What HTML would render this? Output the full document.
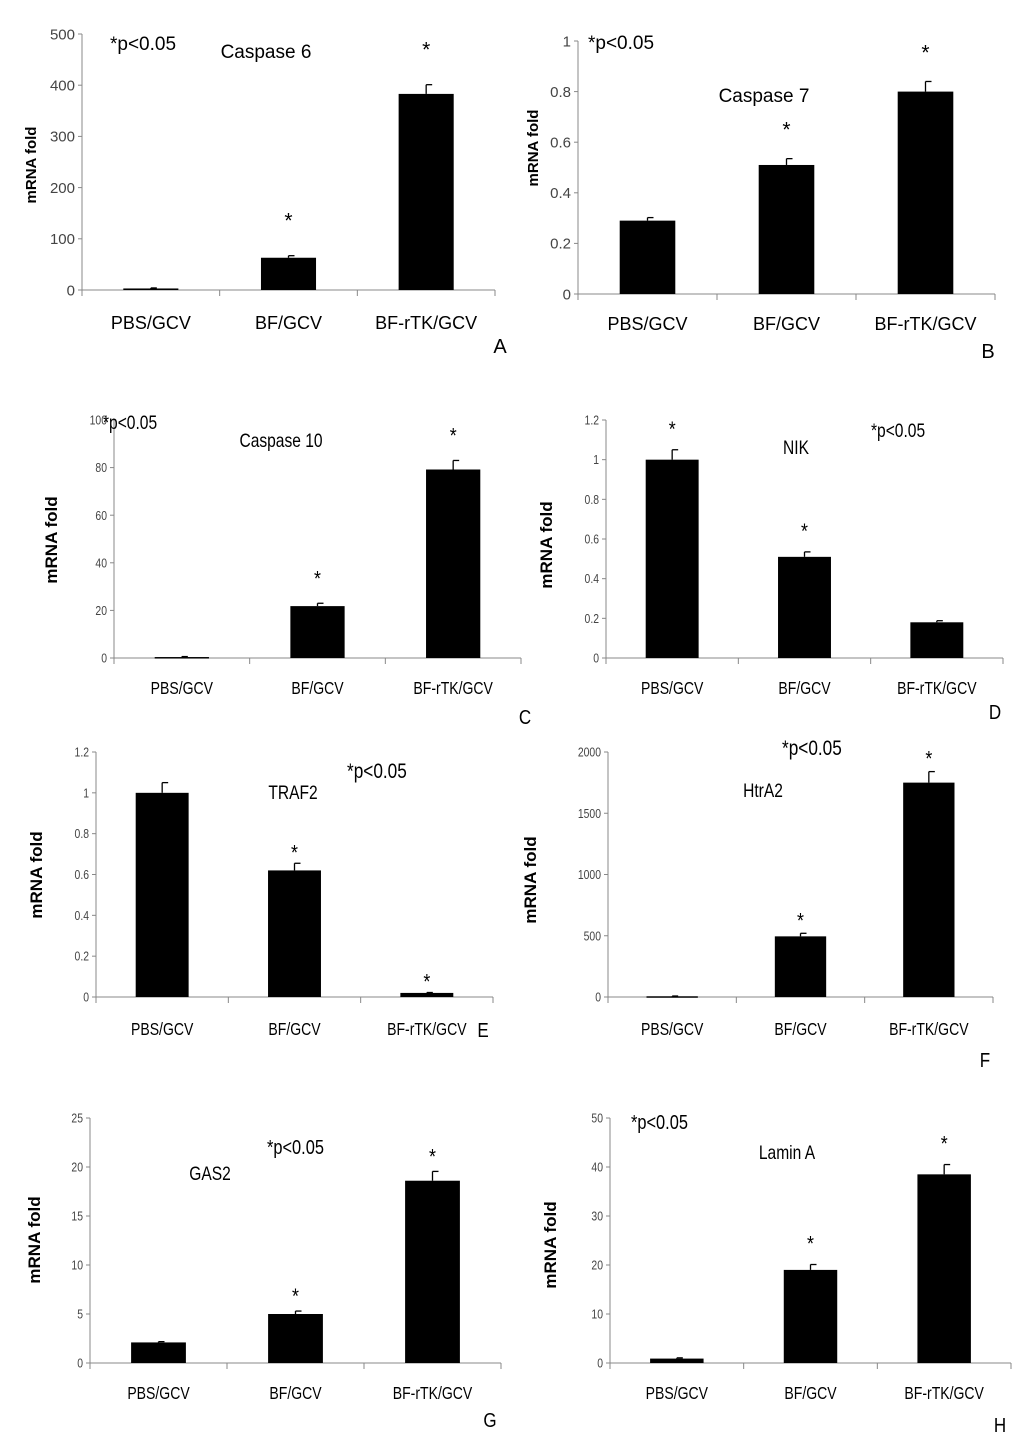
<!DOCTYPE html>
<html><head><meta charset="utf-8"><style>
html,body{margin:0;padding:0;background:#fff;}
svg{display:block;font-family:"Liberation Sans",sans-serif;}
</style></head><body>
<svg id="fig" width="1024" height="1452" viewBox="0 0 1024 1452" xmlns="http://www.w3.org/2000/svg"></svg>
<script>
const categories = ["PBS/GCV","BF/GCV","BF-rTK/GCV"];
const titles = ["Caspase 6","Caspase 7","Caspase 10","NIK","TRAF2","HtrA2","GAS2","Lamin A"];
const letters = ["A","B","C","D","E","F","G","H"];
const valuesA = [3, 63, 383];    const errA = [1, 4, 18];
const valuesB = [0.29, 0.51, 0.80]; const errB = [0.012, 0.025, 0.04];
const valuesC = [0.4, 21.8, 79.2]; const errC = [0.2, 1.2, 3.8];
const valuesD = [1.0, 0.51, 0.18]; const errD = [0.05, 0.025, 0.008];
const valuesE = [1.0, 0.62, 0.02]; const errE = [0.05, 0.035, 0.002];
const valuesF = [6, 495, 1750]; const errF = [2, 25, 90];
const valuesG = [2.1, 5.0, 18.6]; const errG = [0.08, 0.3, 0.95];
const valuesH = [0.9, 19, 38.5]; const errH = [0.15, 1.1, 2.0];
const ticksA = ["0","100","200","300","400","500"];
const ticksB = ["0","0.2","0.4","0.6","0.8","1"];
const ticksC = ["0","20","40","60","80","100"];
const ticksD = ["0","0.2","0.4","0.6","0.8","1","1.2"];
const ticksE = ["0","0.2","0.4","0.6","0.8","1","1.2"];
const ticksF = ["0","500","1000","1500","2000"];
const ticksG = ["0","5","10","15","20","25"];
const ticksH = ["0","10","20","30","40","50"];
const starsA=[0,1,1], starsB=[0,1,1], starsC=[0,1,1], starsD=[1,1,0], starsE=[0,1,1], starsF=[0,1,1], starsG=[0,1,1], starsH=[0,1,1];

const layout = [
 {x0:82,x1:495,yT:34,yB:290,catY:329,cond:false,tf:15,so:28,yl:[36,165],bold:false,p:[110,50,19],t:[266,58],L:[500,353]},
 {x0:578,x1:995,yT:41,yB:294,catY:330,cond:false,tf:15,so:22,yl:[538,148],bold:false,p:[588,49,19],t:[764,102],L:[988,358]},
 {x0:114,x1:521,yT:420,yB:658,catY:694,cond:true,tf:13,so:18,yl:[57,540],bold:true,p:[103,429,19],t:[281,447],L:[525,724]},
 {x0:606,x1:1003,yT:420,yB:658,catY:694,cond:true,tf:13,so:14,yl:[552,545],bold:true,p:[871,437,19],t:[796,454],L:[995,719]},
 {x0:96,x1:493,yT:752,yB:997,catY:1035,cond:true,tf:13,so:4,yl:[42,875],bold:true,p:[347,778,21],t:[293,799],L:[483,1037]},
 {x0:608,x1:993,yT:752,yB:997,catY:1035,cond:true,tf:13,so:6,yl:[536,880],bold:true,p:[782,755,21],t:[763,797],L:[985,1067]},
 {x0:90,x1:501,yT:1118,yB:1363,catY:1399,cond:true,tf:13,so:8,yl:[40,1240],bold:true,p:[267,1154,20],t:[210,1180],L:[490,1427]},
 {x0:610,x1:1011,yT:1118,yB:1363,catY:1399,cond:true,tf:13,so:14,yl:[556,1245],bold:true,p:[631,1129,20],t:[787,1159],L:[1000,1432]}
];
const allVals=[valuesA,valuesB,valuesC,valuesD,valuesE,valuesF,valuesG,valuesH];
const allErr=[errA,errB,errC,errD,errE,errF,errG,errH];
const allTicks=[ticksA,ticksB,ticksC,ticksD,ticksE,ticksF,ticksG,ticksH];
const allStars=[starsA,starsB,starsC,starsD,starsE,starsF,starsG,starsH];
const NS="http://www.w3.org/2000/svg";
const svg=document.getElementById('fig');
function mk(tag,attrs,parent){const e=document.createElementNS(NS,tag);for(const k in attrs)e.setAttribute(k,attrs[k]);(parent||svg).appendChild(e);return e;}

layout.forEach((L,i)=>{
  const g=mk('g',{});
  
  
  const ticks=allTicks[i];
  const tmax=parseFloat(ticks[ticks.length-1]);
  const y=v=>L.yB-(v/tmax)*(L.yB-L.yT);
  const band=(L.x1-L.x0)/categories.length;
  const xc=k=>L.x0+band*(k+0.5);
  const ya=mk('line',{x1:L.x0,y1:L.yT,x2:L.x0,y2:L.yB,stroke:'#888','stroke-width':1},g);
  
  
  const xa=mk('line',{x1:L.x0,y1:L.yB,x2:L.x1,y2:L.yB,stroke:'#888','stroke-width':1},g);
  
  
  ticks.forEach(t=>{
    const ty=y(parseFloat(t));
    mk('line',{x1:L.x0-4,y1:ty,x2:L.x0,y2:ty,stroke:'#888'},g);
    const tt=mk('text',{x:0,y:0,'font-size':L.tf,fill:'#444','text-anchor':'end',transform:`translate(${L.x0-7},${ty+L.tf*0.35}) ${L.cond?'scale(0.8,1)':''}`},g);
    tt.textContent=t;
    
    
  });
  for(let k=0;k<=categories.length;k++){
    const tx=L.x0+band*k;
    mk('line',{x1:tx,y1:L.yB,x2:tx,y2:L.yB+6,stroke:'#888'},g);
  }
  const vals=allVals[i], errs=allErr[i], st=allStars[i];
  vals.forEach((v,k)=>{
    const bw=band*0.4, bx=xc(k)-bw/2, by=y(v);
    const r=mk('rect',{x:bx,y:by,width:bw,height:Math.max(L.yB-by,1.5),fill:'#000'},g);
    
    
    const ey=y(v+errs[k]);
    mk('line',{x1:xc(k),y1:by,x2:xc(k),y2:ey,stroke:'#000','stroke-width':1.3},g);
    mk('line',{x1:xc(k),y1:ey,x2:xc(k)+6,y2:ey,stroke:'#000','stroke-width':1.3},g);
    if(st[k]){
      const s=mk('text',{x:0,y:0,'font-size':21,'text-anchor':'middle',fill:'#000',transform:`translate(${xc(k)},${ey-L.so}) ${L.cond?'scale(0.85,1)':''}`},g);
      s.textContent='*';
      
      
    }
    const c=mk('text',{x:0,y:0,'font-size':18,'text-anchor':'middle',fill:'#000',transform:`translate(${xc(k)},${L.catY}) ${L.cond?'scale(0.78,1)':''}`},g);
    c.textContent=categories[k];
    
    
  });
  const yl=mk('text',{x:0,y:0,'font-size':L.bold?17:15,'font-weight':'bold','text-anchor':'middle',fill:'#000',transform:`translate(${L.yl[0]},${L.yl[1]}) rotate(-90)`},g);
  yl.textContent='mRNA fold';
  
  
  const p=mk('text',{x:0,y:0,'font-size':L.p[2],fill:'#000',transform:`translate(${L.p[0]},${L.p[1]}) ${L.cond?'scale(0.82,1)':''}`},g);
  p.textContent='*p<0.05';
  
  
  const t=mk('text',{x:0,y:0,'font-size':19,'text-anchor':'middle',fill:'#000',transform:`translate(${L.t[0]},${L.t[1]}) ${L.cond?'scale(0.82,1)':''}`},g);
  t.textContent=titles[i];
  
  
  const le=mk('text',{x:0,y:0,'font-size':20,'text-anchor':'middle',fill:'#000',transform:`translate(${L.L[0]},${L.L[1]}) ${L.cond?'scale(0.85,1)':''}`},g);
  le.textContent=letters[i];
  
  
});
</script>
</body></html>
